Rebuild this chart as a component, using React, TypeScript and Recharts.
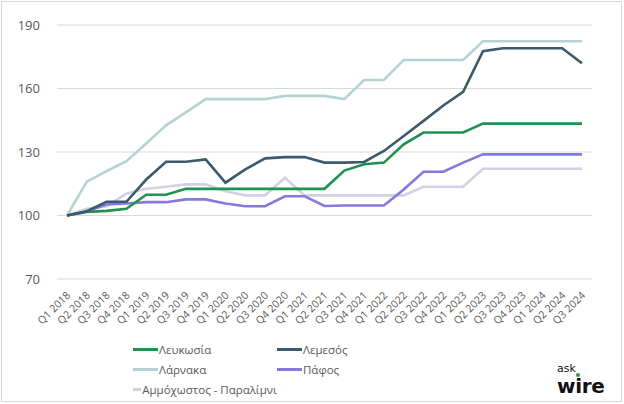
import { LineChart, Line, XAxis, YAxis, CartesianGrid } from 'recharts';

const quarters = [
  'Q1 2018', 'Q2 2018', 'Q3 2018', 'Q4 2018',
  'Q1 2019', 'Q2 2019', 'Q3 2019', 'Q4 2019',
  'Q1 2020', 'Q2 2020', 'Q3 2020', 'Q4 2020',
  'Q1 2021', 'Q2 2021', 'Q3 2021', 'Q4 2021',
  'Q1 2022', 'Q2 2022', 'Q3 2022', 'Q4 2022',
  'Q1 2023', 'Q2 2023', 'Q3 2023', 'Q4 2023',
  'Q1 2024', 'Q2 2024', 'Q3 2024',
];

const lefkosia = [100, 101.7, 102.2, 103.2, 109.8, 109.8, 112.6, 112.6, 112.6, 112.6, 112.6, 112.6, 112.6, 112.6, 121.2, 124.2, 125, 133.6, 139.2, 139.2, 139.2, 143.4, 143.4, 143.4, 143.4, 143.4, 143.4];
const lemesos = [100, 102, 106.5, 106.5, 117, 125.4, 125.4, 126.5, 115.5, 121.8, 127, 127.6, 127.6, 125, 125, 125.3, 130.5, 137.6, 144.7, 152, 158.4, 177.6, 179, 179, 179, 179, 171.9];
const larnaka = [100, 116, 121, 125.7, 134, 142.6, 148.7, 155, 155, 155, 155, 156.5, 156.5, 156.5, 155, 164, 164, 173.5, 173.5, 173.5, 173.5, 182.3, 182.3, 182.3, 182.3, 182.3, 182.3];
const pafos = [100, 102, 105.2, 105.7, 106.3, 106.3, 107.6, 107.6, 105.7, 104.4, 104.4, 109.1, 109.1, 104.5, 104.7, 104.7, 104.7, 112.3, 120.7, 120.7, 125, 128.9, 128.9, 128.9, 128.9, 128.9, 128.9];
const ammochostos = [100, 103.2, 104.4, 110.3, 112.6, 113.6, 114.7, 114.7, 111.5, 109.5, 109.5, 117.8, 109.5, 109.5, 109.5, 109.5, 109.5, 109.5, 113.6, 113.6, 113.6, 122.1, 122.1, 122.1, 122.1, 122.1, 122.1];

const yTicks = [70, 100, 130, 160, 190];

const series = [
  { key: 'lefkosia', name: 'Λευκωσία', color: '#1f9150', values: lefkosia },
  { key: 'lemesos', name: 'Λεμεσός', color: '#3c5a6b', values: lemesos },
  { key: 'larnaka', name: 'Λάρνακα', color: '#b5d3d2', values: larnaka },
  { key: 'pafos', name: 'Πάφος', color: '#8479dd', values: pafos },
  { key: 'ammochostos', name: 'Αμμόχωστος - Παραλίμνι', color: '#d0d1e4', values: ammochostos },
];

// draw order: light lines under dark ones
const drawOrder = ['larnaka', 'ammochostos', 'pafos', 'lefkosia', 'lemesos'];

const data = quarters.map((q, i) => {
  const row: Record<string, string | number> = { q };
  series.forEach(s => { row[s.key] = s.values[i]; });
  return row;
});

const FONT = '"Open Sans", "Noto Sans", sans-serif';

function QuarterTick({ x, y, payload }: any) {
  return (
    <text x={x + 4} y={y + 9} transform={`rotate(-45, ${x + 4}, ${y + 9})`}
      textAnchor="end" fill="#595959" fontSize={10.5} fontFamily={FONT}>
      {payload.value}
    </text>
  );
}

function LegendItem({ name, color }: { name: string; color: string }) {
  return (
    <div style={{ display: 'flex', alignItems: 'center', height: 20, whiteSpace: 'nowrap' }}>
      <div style={{ width: 25, height: 3, background: color, marginRight: 1 }} />
      <span style={{ fontSize: 11.5, color: '#595959', fontFamily: FONT }}>{name}</span>
    </div>
  );
}

export default function App() {
  const byKey = Object.fromEntries(series.map(s => [s.key, s]));
  return (
    <div style={{ position: 'absolute', left: 0, top: 0, width: 624, height: 404, background: '#fff', overflow: 'hidden' }}>
      <div style={{ position: 'absolute', left: 1, top: 1, width: 621, height: 401, border: '1px solid #d9d9d9', boxSizing: 'border-box' }} />
      <LineChart width={624} height={404} data={data}
        margin={{ top: 25, right: 32, bottom: 65, left: 7 }}>
        <CartesianGrid vertical={false} stroke="#d9d9d9" />
        <XAxis dataKey="q" interval={0} tickLine={false} axisLine={false}
          height={60} tick={<QuarterTick />} padding={{ left: 10, right: 10 }} />
        <YAxis domain={[70, 190]} ticks={yTicks} width={50} tickLine={false}
          axisLine={false} tick={{ fill: '#595959', fontSize: 13, fontFamily: FONT }} tickMargin={11} />
        {drawOrder.map(k => (
          <Line key={k} type="linear" dataKey={k} name={byKey[k].name} stroke={byKey[k].color}
            strokeWidth={2.6} dot={false} isAnimationActive={false} />
        ))}
      </LineChart>
      <div style={{ position: 'absolute', left: 133, top: 339, display: 'grid', gridTemplateColumns: '144px 150px' }}>
        {series.map(s => <LegendItem key={s.key} name={s.name} color={s.color} />)}
      </div>
      <div style={{ position: 'absolute', left: 557, top: 363, fontFamily: '"DejaVu Sans", sans-serif', lineHeight: 1 }}>
        <div style={{ fontSize: 11, height: 11, color: '#111', position: 'relative' }}>
          ask<span style={{ position: 'absolute', left: 19, top: 10, width: 4, height: 4, borderRadius: 2, background: '#1f9a4a' }} />
        </div>
        <div style={{ fontSize: 20, height: 18, fontWeight: 'bold', color: '#111', marginTop: 2, letterSpacing: -0.3 }}>wire</div>
      </div>
    </div>
  );
}
